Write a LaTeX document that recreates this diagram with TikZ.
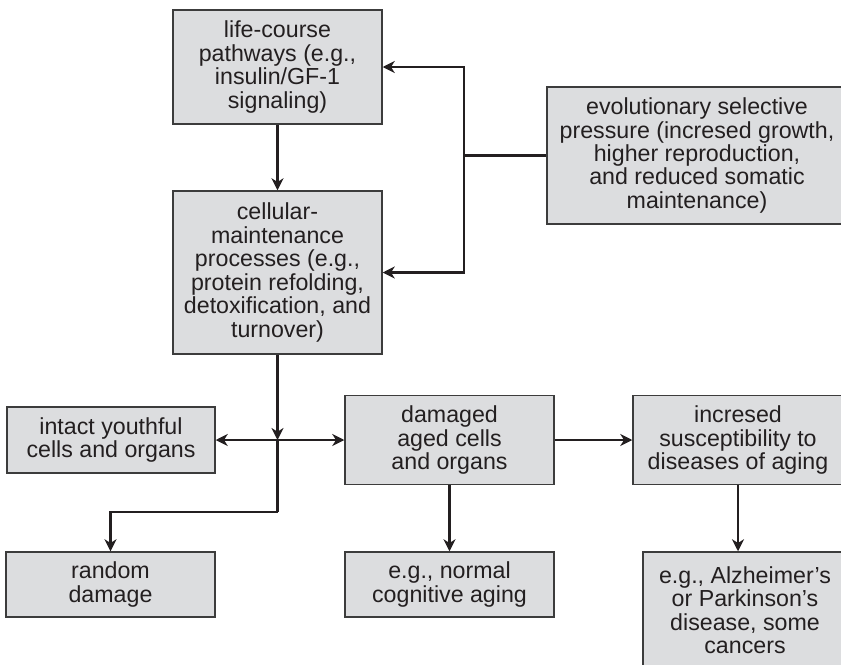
\documentclass[tikz,border=0pt]{standalone}
\usepackage{fontspec}
\setmainfont{Liberation Sans}
\usetikzlibrary{arrows.meta}
\definecolor{boxfill}{RGB}{220,221,223}
\definecolor{ink}{RGB}{35,31,32}
\definecolor{edgegray}{RGB}{60,60,60}
\begin{document}
\begin{tikzpicture}[x=0.75pt,y=-0.75pt,
  box/.style={draw=edgegray, fill=boxfill, line width=1.1pt, align=center, inner sep=0pt, text=ink, font=\fontsize{17.4}{17.6}\selectfont},
  bw/.style={minimum width=#1*0.75pt},
  bh/.style={minimum height=#1*0.75pt},
  conn/.style={draw=ink, line width=2.2pt},
  arr/.style={conn, -{Stealth[length=9pt,width=9pt,inset=2.8pt]}}]
\useasboundingbox (0,0) rectangle (841,664);
\clip (0,0) rectangle (841,664);

\node[box,bw=209,bh=114] (life) at (277.5,67) {life-course\\pathways (e.g.,\\insulin/GF-1\\signaling)};
\node[box,bw=209,bh=163] (cell) at (277.5,272.5) {cellular-\\maintenance\\processes (e.g.,\\protein refolding,\\detoxification, and\\turnover)};
\node[box,bw=300,bh=137] (evo) at (697,155.5) {evolutionary selective\\pressure (incresed growth,\\higher reproduction,\\and reduced somatic\\maintenance)};
\node[box,bw=208,bh=66] (intact) at (111,440) {intact youthful\\cells and organs};
\node[box,bw=209,bh=89] (dam) at (449.5,440) {damaged\\aged cells\\and organs};
\node[box,bw=210,bh=89] (inc) at (738,440) {incresed\\susceptibility to\\diseases of aging};
\node[box,bw=209,bh=65] (rand) at (110.5,584.5) {random\\damage};
\node[box,bw=209,bh=65] (norm) at (449.5,584.5) {e.g., normal\\cognitive aging};
\node[box,bw=204,bh=116] (alz) at (745,610) {e.g., Alzheimer’s\\or Parkinson’s\\disease, some\\cancers};

\coordinate (j1) at (464,155.5);
\coordinate (j2) at (277.5,440);
\coordinate (j3) at (277.5,512);

\draw[conn] (evo.west) -- (j1);
\draw[arr] (j1) |- (life.east);
\draw[arr] (j1) |- (cell.east);
\draw[arr] (life.south) -- (cell.north);
\draw[arr] (cell.south) -- (j2);
\draw[arr] (j2) -- (intact.east);
\draw[arr] (j2) -- (dam.west);
\draw[conn] (j2) -- (j3);
\draw[arr] (j3) -| (rand.north);
\draw[arr] (dam.east) -- (inc.west);
\draw[arr] (dam.south) -- (norm.north);
\draw[arr] (inc.south) -- (inc.south |- alz.north);
\end{tikzpicture}
\end{document}
